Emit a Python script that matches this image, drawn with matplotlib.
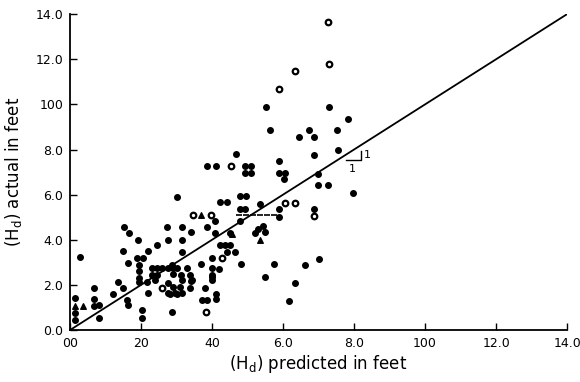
import matplotlib.pyplot as plt
import numpy as np

# --- data ---
# filled circles
filled_x = [5.52, 7.3, 7.83, 5.63, 6.73, 7.52, 6.45, 6.87, 4.68, 6.87, 7.55, 5.9,
            3.86, 4.11, 4.93, 5.1, 4.93, 5.1, 5.9, 6.06, 6.03, 6.99, 6.99, 7.27,
            7.97, 4.79, 4.96, 3.0, 4.22, 4.42, 5.35, 4.79, 4.93, 5.89, 5.89, 6.87,
            4.08, 4.79, 2.73, 3.15, 3.86, 5.44, 5.3, 5.21, 5.49, 4.08, 4.5, 3.4,
            2.76, 3.15, 4.22, 4.36, 4.5, 4.42, 4.65, 3.15, 4.0, 4.82, 3.69, 5.75,
            6.62, 7.01, 5.49, 6.34, 6.17,
            1.52, 1.66, 1.92, 0.28, 1.49, 2.2, 2.45, 1.63, 1.9, 2.05, 1.94, 1.94,
            1.94, 1.94, 2.17, 2.39, 1.35, 1.49, 1.21, 0.68, 0.68, 0.68, 0.82, 0.82,
            0.14, 0.14, 0.14, 1.6, 1.63, 2.03, 2.03, 2.2,
            2.3, 2.45, 2.6, 2.3, 2.45, 2.87, 2.76, 2.9, 3.0, 2.9, 2.76, 2.9,
            2.76, 2.96, 2.87, 3.15, 3.1, 3.15, 3.3, 3.38, 3.43, 3.38, 3.71, 3.85,
            3.8, 4.0, 4.0, 4.0, 4.11, 4.11, 4.2, 3.13, 3.42, 2.82, 3.0, 4.0]
filled_y = [9.87, 9.87, 9.34, 8.85, 8.85, 8.85, 8.54, 8.54, 7.8, 7.74, 7.96, 7.5,
            7.27, 7.27, 7.27, 7.27, 6.95, 6.95, 6.95, 6.95, 6.68, 6.9, 6.42, 6.42,
            6.06, 5.93, 5.93, 5.9, 5.67, 5.67, 5.6, 5.35, 5.35, 5.35, 5.0, 5.35,
            4.82, 4.82, 4.56, 4.56, 4.56, 4.6, 4.5, 4.29, 4.33, 4.29, 4.29, 4.33,
            4.0, 4.0, 3.76, 3.76, 3.76, 3.45, 3.45, 3.45, 3.19, 2.92, 2.92, 2.92,
            2.88, 3.17, 2.34, 2.08, 1.28,
            4.56, 4.29, 4.0, 3.23, 3.5, 3.5, 3.76, 2.96, 3.19, 3.19, 2.9, 2.6,
            2.3, 2.12, 2.12, 2.2, 2.12, 1.86, 1.6, 1.86, 1.37, 1.06, 1.1, 0.53,
            1.42, 0.75, 0.44, 1.33, 1.1, 0.88, 0.53, 1.64,
            2.74, 2.74, 2.74, 2.43, 2.43, 2.88, 2.74, 2.74, 2.74, 2.5, 2.1, 1.9,
            1.63, 1.63, 0.8, 2.2, 1.9, 1.64, 2.74, 2.43, 2.2, 1.86, 1.33, 1.33,
            1.86, 2.74, 2.43, 2.2, 1.6, 1.37, 2.7, 2.43, 2.17, 1.6, 1.6, 2.34]

# open circles
open_x = [7.27, 7.3, 6.34, 5.9, 4.53, 6.06, 6.34, 3.46, 3.97, 6.87, 2.59, 4.27, 3.83]
open_y = [13.67, 11.8, 11.5, 10.7, 7.27, 5.62, 5.62, 5.1, 5.1, 5.04, 1.86, 3.19, 0.78]

# triangles
tri_x = [3.69, 0.37, 0.14, 5.35, 4.56]
tri_y = [5.1, 1.06, 1.06, 4.0, 4.25]

# short dash markers
dash_x = [4.75, 4.95, 5.15, 5.35, 5.55, 5.75]
dash_y = [5.1, 5.1, 5.1, 5.1, 5.1, 5.1]

ticks = [0, 2, 4, 6, 8, 10, 12, 14]
xtick_labels = ["00", "20", "40", "6.0", "8.0", "100", "12.0", "14.0"]
ytick_labels = ["0.0", "2.0", "4.0", "6.0", "8.0", "100", "12.0", "14.0"]

# --- figure ---
fig = plt.figure(figsize=(5.8, 3.82), dpi=100)
ax = fig.add_axes([0.1207, 0.136, 0.857, 0.827])

ax.scatter(filled_x, filled_y, s=16, color="black", zorder=3)
ax.scatter(open_x, open_y, s=16, facecolors="white", edgecolors="black",
           linewidths=1.6, zorder=3)
ax.scatter(tri_x, tri_y, s=16, marker="^", color="black", zorder=3)
ax.scatter(dash_x, dash_y, s=20, marker="_", color="black", linewidths=1.2, zorder=3)

# 1:1 line
ax.plot([0, 14], [0, 14], color="black", lw=1.3, zorder=2)

# slope triangle
ax.plot([7.77, 8.2, 8.2], [7.52, 7.52, 7.92], color="black", lw=1.0)
ax.text(7.95, 7.15, "1", fontsize=8, ha="center", va="center")
ax.text(8.37, 7.74, "1", fontsize=8, ha="center", va="center")

ax.set_xlim(0, 14)
ax.set_ylim(0, 14)
ax.set_xticks(ticks)
ax.set_yticks(ticks)
ax.set_xticklabels(xtick_labels)
ax.set_yticklabels(ytick_labels)
ax.tick_params(direction="in", length=5, width=1, labelsize=9, pad=5)

for side in ["top", "right"]:
    ax.spines[side].set_visible(False)
ax.spines["left"].set_linewidth(1.3)
ax.spines["bottom"].set_linewidth(1.3)

ax.set_xlabel("(H$_\\mathregular{d}$) predicted in feet", fontsize=12, labelpad=2)
ax.set_ylabel("(H$_\\mathregular{d}$) actual in feet", fontsize=12, labelpad=8)

plt.savefig("out.png", dpi=100)
